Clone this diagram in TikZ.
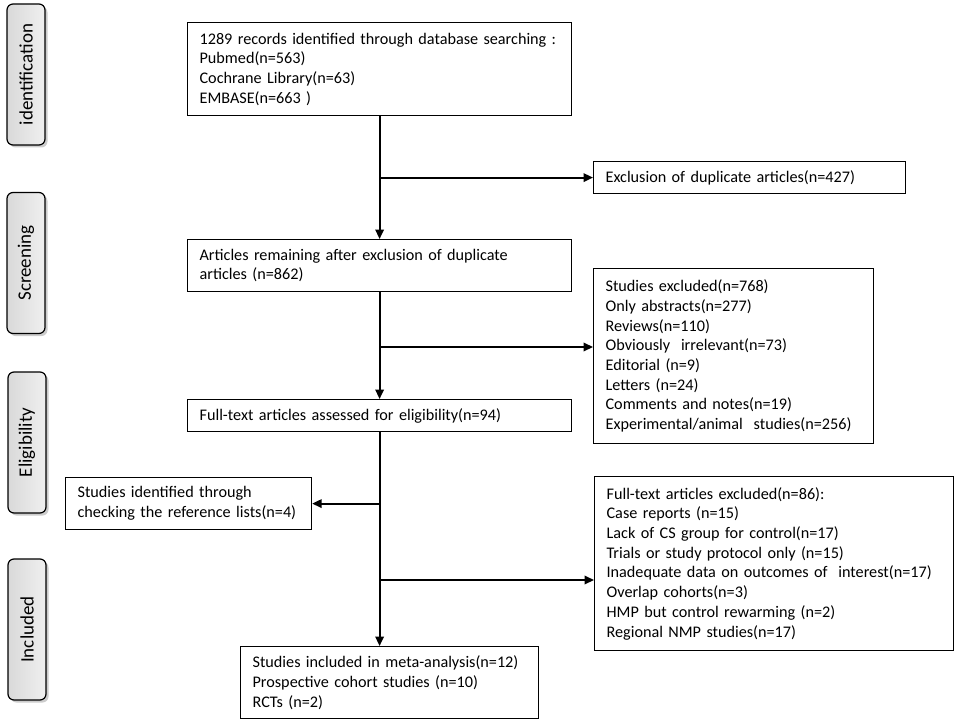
\documentclass[tikz,border=0pt]{standalone}
\usepackage{fontspec}
\setmainfont{Carlito}
\usetikzlibrary{arrows.meta,positioning,calc,shadows}

\tikzset{
  stagebox/.style={draw,line width=1.2pt,anchor=north west,align=left,inner xsep=12pt,inner ysep=0pt,font=\fontsize{16.2}{19.7}\selectfont},
  phasetab/.style={draw,line width=1.2pt,rounded corners=6pt,rotate=90,minimum width=141pt,minimum height=38pt,left color=gray!30,right color=gray!12,drop shadow={shadow xshift=2.5pt,shadow yshift=-2.5pt,opacity=0.4},font=\fontsize{19}{22}\selectfont},
  flow/.style={-{Triangle[length=9.5pt,width=8.5pt]},line width=2pt}
}

\begin{document}
\begin{tikzpicture}[x=1pt,y=-1pt]
    \useasboundingbox (0,0) rectangle (957,722);

    % Phase tabs
    \node[phasetab] (tabid) at (26,74.5) {identification};
    \node[phasetab] (tabscr) at (26,263) {Screening};
    \node[phasetab] (tabelig) at (27,442.5) {Eligibility};
    \node[phasetab] (tabincl) at (27,629.5) {Included};

    % Main column
    \node[stagebox,text width=360pt,minimum height=93pt] (records) at (187,22) {1289 records identified through database searching :\\Pubmed(n=563)\\Cochrane Library(n=63)\\EMBASE(n=663 )};
    \node[stagebox,text width=360pt,minimum height=52pt] (remain) at (187,239) {Articles remaining after exclusion of duplicate\\articles (n=862)};
    \node[stagebox,text width=360pt,minimum height=32pt] (fulltext) at (187,399) {Full-text articles assessed for eligibility(n=94)};
    \node[stagebox,text width=274pt,minimum height=72pt] (included) at (240,646) {Studies included in meta-analysis(n=12)\\Prospective cohort studies (n=10)\\RCTs (n=2)};

    % Side boxes
    \node[stagebox,text width=288pt,minimum height=32pt] (dupl) at (593,161) {Exclusion of duplicate articles(n=427)};
    \node[stagebox,text width=256pt,minimum height=175pt] (screxcl) at (593,268) {Studies excluded(n=768)\\Only abstracts(n=277)\\Reviews(n=110)\\Obviously\ \ irrelevant(n=73)\\Editorial (n=9)\\Letters (n=24)\\Comments and notes(n=19)\\Experimental/animal\ \ studies(n=256)};
    \node[stagebox,text width=222pt,minimum height=52pt] (refs) at (65,477) {Studies identified through\\checking the reference lists(n=4)};
    \node[stagebox,text width=335pt,minimum height=174pt] (ftexcl) at (594,476) {Full-text articles excluded(n=86):\\Case reports (n=15)\\Lack of CS group for control(n=17)\\Trials or study protocol only (n=15)\\Inadequate data on outcomes of\ \ interest(n=17)\\Overlap cohorts(n=3)\\HMP but control rewarming (n=2)\\Regional NMP studies(n=17)};

    % Split points
    \coordinate (split2) at (379,347);
    \coordinate (split4) at (379,580);

    % Flows
    \draw[flow] (records.south) -- (remain.north);
    \draw[flow] (records.south |- dupl.west) -- (dupl.west);
    \draw[flow] (remain.south) -- (fulltext.north);
    \draw[flow] (split2) -- (split2 -| screxcl.west);
    \draw[flow] (fulltext.south) -- (fulltext.south |- included.north);
    \draw[flow] (fulltext.south |- refs.east) -- (refs.east);
    \draw[flow] (split4) -- (split4 -| ftexcl.west);
\end{tikzpicture}
\end{document}
